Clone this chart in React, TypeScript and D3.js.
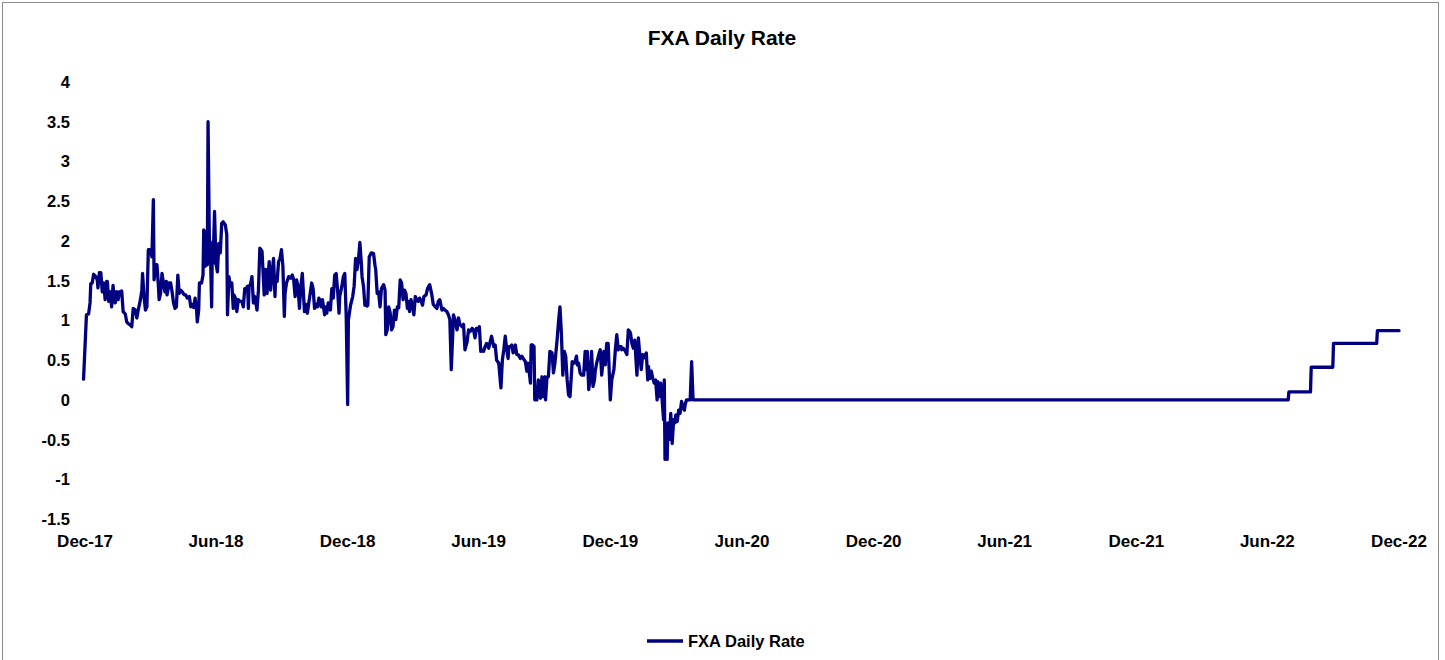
import React from "react";
import * as d3 from "d3";

// ---- Data ----
const seriesName = "FXA Daily Rate";
const chartTitle = "FXA Daily Rate";

const rateDates: string[] = [
  "2017-11-29","2017-12-03","2017-12-06","2017-12-08","2017-12-09","2017-12-11","2017-12-13","2017-12-16","2017-12-18","2017-12-19",
  "2017-12-21","2017-12-23","2017-12-25","2017-12-27","2017-12-29","2017-12-31","2018-01-01","2018-01-03","2018-01-05","2018-01-07",
  "2018-01-09","2018-01-10","2018-01-12","2018-01-14","2018-01-16","2018-01-18","2018-01-20","2018-01-21","2018-01-23","2018-01-26",
  "2018-01-28","2018-01-30","2018-02-02","2018-02-04","2018-02-06","2018-02-09","2018-02-11","2018-02-13","2018-02-16","2018-02-18",
  "2018-02-19","2018-02-21","2018-02-23","2018-02-25","2018-02-27","2018-03-02","2018-03-04","2018-03-06","2018-03-07","2018-03-09",
  "2018-03-11","2018-03-13","2018-03-14","2018-03-16","2018-03-18","2018-03-20","2018-03-22","2018-03-24","2018-03-25","2018-03-28",
  "2018-03-30","2018-04-01","2018-04-03","2018-04-05","2018-04-07","2018-04-09","2018-04-11","2018-04-13","2018-04-15","2018-04-18",
  "2018-04-20","2018-04-22","2018-04-25","2018-04-27","2018-04-29","2018-05-01","2018-05-03","2018-05-05","2018-05-06","2018-05-08",
  "2018-05-09","2018-05-12","2018-05-14","2018-05-15","2018-05-17","2018-05-18","2018-05-20","2018-05-21","2018-05-23","2018-05-24",
  "2018-05-26","2018-05-27","2018-05-28","2018-05-30","2018-06-01","2018-06-03","2018-06-05","2018-06-07","2018-06-09","2018-06-11",
  "2018-06-14","2018-06-16","2018-06-17","2018-06-19","2018-06-21","2018-06-23","2018-06-25","2018-06-26","2018-06-28","2018-06-30",
  "2018-07-02","2018-07-04","2018-07-07","2018-07-09","2018-07-11","2018-07-13","2018-07-15","2018-07-16","2018-07-17","2018-07-19",
  "2018-07-21","2018-07-23","2018-07-25","2018-07-28","2018-07-30","2018-08-01","2018-08-04","2018-08-06","2018-08-07","2018-08-09",
  "2018-08-11","2018-08-12","2018-08-14","2018-08-16","2018-08-18","2018-08-20","2018-08-22","2018-08-23","2018-08-25","2018-08-27",
  "2018-08-29","2018-08-31","2018-09-02","2018-09-04","2018-09-05","2018-09-07","2018-09-10","2018-09-13","2018-09-15","2018-09-17",
  "2018-09-19","2018-09-21","2018-09-23","2018-09-25","2018-09-27","2018-09-29","2018-09-30","2018-10-02","2018-10-04","2018-10-06",
  "2018-10-08","2018-10-10","2018-10-12","2018-10-14","2018-10-16","2018-10-18","2018-10-20","2018-10-22","2018-10-24","2018-10-25",
  "2018-10-27","2018-10-30","2018-11-01","2018-11-02","2018-11-04","2018-11-07","2018-11-09","2018-11-11","2018-11-13","2018-11-15",
  "2018-11-17","2018-11-19","2018-11-20","2018-11-23","2018-11-25","2018-11-27","2018-11-29","2018-12-01","2018-12-02","2018-12-05",
  "2018-12-08","2018-12-10","2018-12-12","2018-12-14","2018-12-16","2018-12-18","2018-12-20","2018-12-21","2018-12-23","2018-12-25",
  "2018-12-28","2018-12-29","2018-12-31","2019-01-03","2019-01-06","2019-01-08","2019-01-09","2019-01-11","2019-01-13","2019-01-15",
  "2019-01-17","2019-01-20","2019-01-22","2019-01-23","2019-01-25","2019-01-27","2019-01-29","2019-01-31","2019-02-02","2019-02-04",
  "2019-02-06","2019-02-08","2019-02-10","2019-02-12","2019-02-14","2019-02-16","2019-02-18","2019-02-20","2019-02-22","2019-02-23",
  "2019-02-25","2019-02-27","2019-03-01","2019-03-03","2019-03-05","2019-03-07","2019-03-09","2019-03-11","2019-03-13","2019-03-15",
  "2019-03-17","2019-03-20","2019-03-22","2019-03-25","2019-03-28","2019-03-30","2019-04-02","2019-04-04","2019-04-06","2019-04-08",
  "2019-04-11","2019-04-13","2019-04-15","2019-04-18","2019-04-20","2019-04-22","2019-04-24","2019-04-26","2019-04-27","2019-04-29",
  "2019-05-02","2019-05-04","2019-05-06","2019-05-09","2019-05-11","2019-05-13","2019-05-16","2019-05-18","2019-05-20","2019-05-23",
  "2019-05-25","2019-05-27","2019-05-29","2019-05-31","2019-06-02","2019-06-04","2019-06-05","2019-06-08","2019-06-10","2019-06-12",
  "2019-06-15","2019-06-17","2019-06-19","2019-06-22","2019-06-24","2019-06-26","2019-06-29","2019-07-01","2019-07-02","2019-07-04",
  "2019-07-06","2019-07-08","2019-07-10","2019-07-12","2019-07-13","2019-07-15","2019-07-17","2019-07-19","2019-07-22","2019-07-24",
  "2019-07-26","2019-07-29","2019-07-31","2019-08-02","2019-08-05","2019-08-07","2019-08-09","2019-08-12","2019-08-13","2019-08-15",
  "2019-08-17","2019-08-18","2019-08-21","2019-08-23","2019-08-26","2019-08-28","2019-08-30","2019-09-01","2019-09-02","2019-09-04",
  "2019-09-06","2019-09-08","2019-09-11","2019-09-13","2019-09-15","2019-09-18","2019-09-20","2019-09-22","2019-09-24","2019-09-26",
  "2019-09-28","2019-09-30","2019-10-02","2019-10-04","2019-10-06","2019-10-09","2019-10-11","2019-10-13","2019-10-15","2019-10-16",
  "2019-10-18","2019-10-20","2019-10-22","2019-10-25","2019-10-27","2019-10-28","2019-10-30","2019-11-01","2019-11-03","2019-11-05",
  "2019-11-07","2019-11-09","2019-11-10","2019-11-12","2019-11-15","2019-11-17","2019-11-19","2019-11-21","2019-11-22","2019-11-24",
  "2019-11-26","2019-11-28","2019-12-01","2019-12-03","2019-12-05","2019-12-06","2019-12-08","2019-12-10","2019-12-12","2019-12-14",
  "2019-12-16","2019-12-17","2019-12-19","2019-12-22","2019-12-24","2019-12-26","2019-12-28","2019-12-29","2019-12-31","2020-01-02",
  "2020-01-04","2020-01-07","2020-01-09","2020-01-11","2020-01-13","2020-01-15","2020-01-17","2020-01-20","2020-01-22","2020-01-23",
  "2020-01-25","2020-01-27","2020-01-29","2020-01-31","2020-02-02","2020-02-04","2020-02-05","2020-02-07","2020-02-09","2020-02-11",
  "2020-02-13","2020-02-14","2020-02-15","2020-02-17","2020-02-18","2020-02-19","2020-02-21","2020-02-23","2020-02-25","2020-02-27",
  "2020-02-29","2020-03-01","2020-03-03","2020-03-05","2020-03-07","2020-03-09","2020-03-11","2020-03-13","2020-03-14","2020-03-16",
  "2020-03-21","2020-03-23","2020-03-25","2022-06-30","2022-07-01","2022-07-31","2022-08-01","2022-08-31","2022-09-01","2022-10-31",
  "2022-11-01","2022-12-01"
];

const rateValues: number[] = [
  0.26,1.07,1.08,1.22,1.46,1.47,1.58,1.55,1.51,1.41,
  1.60,1.60,1.36,1.47,1.26,1.49,1.49,1.24,1.36,1.17,
  1.44,1.32,1.22,1.36,1.26,1.36,1.35,1.37,1.11,1.08,
  0.98,0.96,0.94,0.92,1.15,1.13,1.03,1.13,1.26,1.38,
  1.59,1.30,1.13,1.17,1.89,1.89,1.80,2.52,1.51,1.70,
  1.70,1.43,1.26,1.34,1.59,1.47,1.36,1.49,1.32,1.47,
  1.47,1.36,1.22,1.15,1.17,1.57,1.34,1.38,1.36,1.32,
  1.32,1.28,1.30,1.17,1.20,1.16,1.28,1.14,0.98,1.13,
  1.47,1.47,1.57,2.14,1.68,2.12,1.70,3.50,1.85,1.99,
  1.17,1.97,1.72,2.37,1.72,1.61,1.97,1.85,2.22,2.24,
  2.20,2.08,1.07,1.55,1.43,1.47,1.15,1.32,1.28,1.11,
  1.26,1.24,1.24,1.17,1.40,1.40,1.43,1.15,1.43,1.45,
  1.55,1.22,1.30,1.13,1.38,1.91,1.87,1.51,1.32,1.64,
  1.34,1.51,1.74,1.38,1.59,1.78,1.30,1.55,1.49,1.74,
  1.78,1.89,1.68,1.05,1.34,1.47,1.55,1.53,1.57,1.51,
  1.30,1.51,1.43,1.15,1.43,1.59,1.43,1.11,1.20,1.09,
  1.22,1.34,1.47,1.40,1.15,1.20,1.17,1.28,1.24,1.17,
  1.26,1.07,1.17,1.09,1.22,1.13,1.40,1.28,1.57,1.59,
  1.38,1.09,1.30,1.43,1.55,1.59,1.05,-0.06,1.00,1.19,
  1.30,1.43,1.78,1.64,1.76,1.98,1.72,1.55,1.43,1.19,
  1.18,1.19,1.80,1.85,1.84,1.69,1.64,1.34,1.36,1.17,
  1.40,1.45,1.38,0.82,0.88,1.17,1.10,0.88,0.92,1.13,
  1.01,1.17,1.16,1.51,1.47,1.26,1.38,1.34,1.15,1.24,
  1.11,1.26,1.20,1.07,1.30,1.26,1.24,1.28,1.24,1.19,
  1.30,1.32,1.40,1.45,1.32,1.20,1.17,1.15,1.24,1.26,
  1.13,1.15,1.13,1.11,1.07,1.01,0.38,0.82,1.07,1.01,
  0.88,1.03,0.95,0.92,0.95,0.63,0.73,0.88,0.86,0.90,
  0.88,0.78,0.90,0.88,0.92,0.61,0.63,0.61,0.67,0.71,
  0.65,0.73,0.80,0.67,0.69,0.50,0.46,0.25,0.15,0.50,
  0.63,0.80,0.63,0.52,0.67,0.67,0.69,0.59,0.69,0.57,
  0.57,0.52,0.55,0.52,0.48,0.36,0.46,0.21,0.69,0.69,
  0.67,0.00,0.00,0.25,0.02,0.29,0.04,0.29,0.00,0.29,
  0.29,0.61,0.59,0.34,0.46,0.75,0.98,1.17,0.84,0.31,
  0.61,0.55,0.25,0.06,0.04,0.48,0.46,0.48,0.55,0.44,
  0.46,0.34,0.31,0.31,0.61,0.38,0.61,0.13,0.27,0.61,
  0.17,0.25,0.36,0.46,0.57,0.63,0.31,0.50,0.61,0.44,
  0.71,0.71,0.00,0.25,0.34,0.38,0.63,0.82,0.63,0.67,
  0.67,0.63,0.65,0.61,0.57,0.88,0.86,0.84,0.71,0.65,
  0.75,0.31,0.78,0.56,0.38,0.57,0.53,0.59,0.25,0.42,
  0.27,0.36,0.27,0.21,0.25,0.00,0.23,0.04,0.21,0.00,
  -0.25,0.25,-0.75,-0.59,-0.75,-0.29,-0.50,-0.17,-0.55,-0.25,
  -0.29,-0.19,-0.27,-0.13,-0.17,-0.02,-0.10,-0.13,-0.06,0.00,
  0.00,0.48,0.00,0.00,0.10,0.10,0.41,0.41,0.71,0.71,
  0.87,0.87
];

const yTicks: number[] = [4, 3.5, 3, 2.5, 2, 1.5, 1, 0.5, 0, -0.5, -1, -1.5];
const xTickDates: string[] = [
  "2017-12-01","2018-06-01","2018-12-01","2019-06-01","2019-12-01","2020-06-01",
  "2020-12-01","2021-06-01","2021-12-01","2022-06-01","2022-12-01"
];
const xTickLabels: string[] = [
  "Dec-17","Jun-18","Dec-18","Jun-19","Dec-19","Jun-20",
  "Dec-20","Jun-21","Dec-21","Jun-22","Dec-22"
];

const W = 1445;
const H = 660;
const FONT = "'Liberation Sans', Arial, Helvetica, sans-serif";
const NAVY = "#000080";

export default function App() {
  const parse = d3.utcParse("%Y-%m-%d");
  const data = rateDates.map((d, i) => ({ date: parse(d) as Date, value: rateValues[i] }));

  const x = d3
    .scaleUtc()
    .domain([parse("2017-12-01") as Date, parse("2022-12-01") as Date])
    .range([85, 1399]);
  const y = d3.scaleLinear().domain([-1.5, 4]).range([519, 82]);

  const line = d3
    .line<{ date: Date; value: number }>()
    .x((d) => x(d.date))
    .y((d) => y(d.value));

  return (
    <div style={{ position: "absolute", left: 0, top: 0 }}>
      <svg width={W} height={H} style={{ display: "block", fontFamily: FONT }}>
        <rect x={0} y={0} width={W} height={H} fill="#ffffff" />
        <rect x={2.5} y={2.5} width={1436} height={H + 10} fill="none" stroke="#8c8c8c" strokeWidth={1} />
        <text x={722} y={37} textAnchor="middle" dominantBaseline="central" fontSize={21} fontWeight="bold" fill="#000">
          {chartTitle}
        </text>
        {yTicks.map((t) => (
          <text key={t} x={70} y={y(t)} textAnchor="end" dominantBaseline="central" fontSize={16.5} fontWeight="bold" fill="#000">
            {String(t)}
          </text>
        ))}
        {xTickDates.map((d, i) => (
          <text key={d} x={x(parse(d) as Date)} y={541} textAnchor="middle" dominantBaseline="central" fontSize={17} fontWeight="bold" fill="#000">
            {xTickLabels[i]}
          </text>
        ))}
        <path d={line(data) || ""} fill="none" stroke={NAVY} strokeWidth={3.3} strokeLinejoin="round" strokeLinecap="round" />
        <line x1={647} x2={683} y1={641} y2={641} stroke={NAVY} strokeWidth={3.3} />
        <text x={688} y={641} dominantBaseline="central" fontSize={16.5} fontWeight="bold" fill="#000">
          {seriesName}
        </text>
      </svg>
    </div>
  );
}
